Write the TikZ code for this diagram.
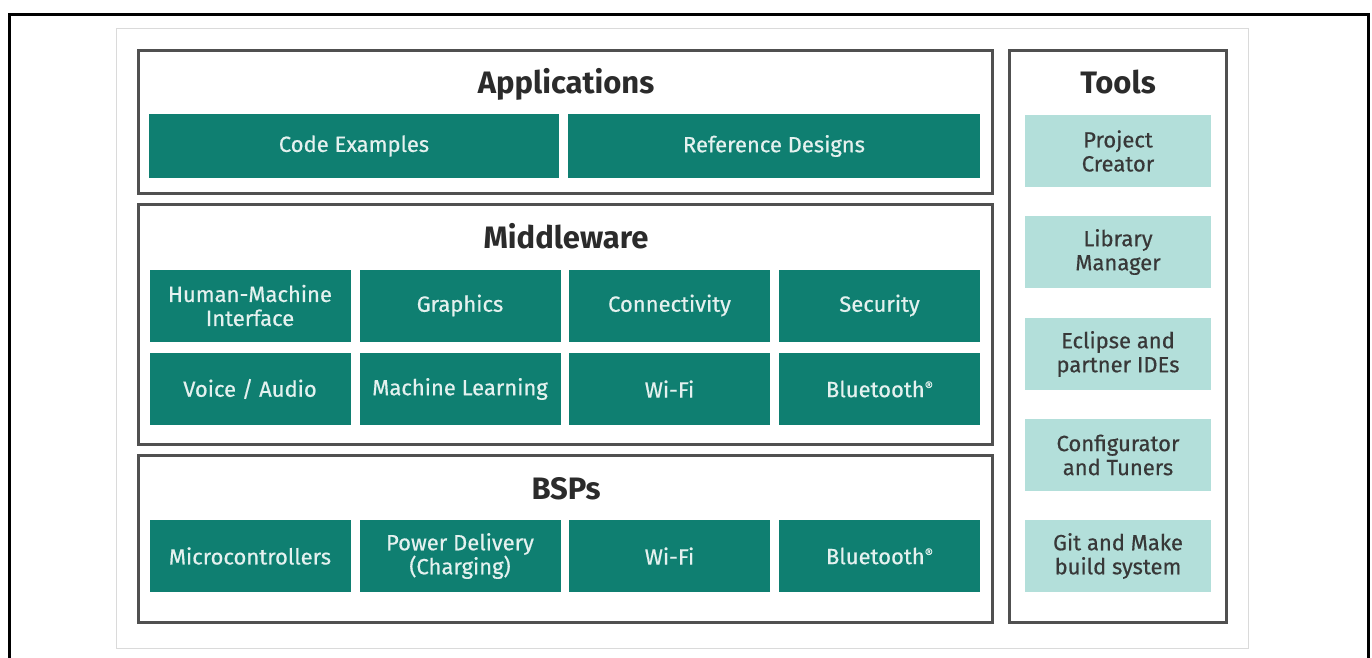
\documentclass[tikz,border=0pt]{standalone}
\usepackage{fontspec}
\setmainfont{Fira Sans}
\newfontfamily\boxfont{Fira Sans}[FakeBold=0.5]
\definecolor{teal1}{HTML}{0F7F71}
\definecolor{lteal}{HTML}{B3DFDA}
\definecolor{btext}{HTML}{E4F1EF}
\definecolor{ttext}{HTML}{2B2B2B}
\definecolor{tooltext}{HTML}{383838}
\definecolor{panelc}{HTML}{505050}
\definecolor{grayc}{HTML}{DADADA}
\begin{document}
\begin{tikzpicture}[x=1pt,y=-1pt,
  panel/.style={draw=panelc,line width=3pt},
  dbox/.style={fill=teal1,text=btext,inner sep=0pt,align=center,
    font=\boxfont\fontsize{22}{24}\selectfont,minimum height=72pt,minimum width=201pt},
  tbox/.style={fill=lteal,text=tooltext,inner sep=0pt,align=center,
    font=\boxfont\fontsize{22}{24}\selectfont,minimum height=72pt,minimum width=186pt},
  title/.style={text=ttext,font=\fontsize{31}{33}\selectfont\bfseries,inner sep=0pt,anchor=base}]
\useasboundingbox (0,0) rectangle (1372,657);
\fill[white] (0,0) rectangle (1372,657);
% outer frame
\draw[black,line width=3pt] (9,660) -- (9,14) -- (1368,14) -- (1368,660);
% light gray frame
\draw[grayc,line width=1pt] (116,28) rectangle (1248,648);
% panels
\draw[panel] (138,50) rectangle (992,193);
\draw[panel] (138,204) rectangle (992,444);
\draw[panel] (138,455) rectangle (992,622);
\draw[panel] (1009,50) rectangle (1226,622);
% titles
\node[title] (tapp) at (566,93) {Applications};
\node[title] (tmid) at (566,248) {Middleware};
\node[title] (tbsp) at (566,499) {BSPs};
\node[title] (ttools) at (1118,93) {Tools};
% applications
\node[dbox,minimum width=410pt,minimum height=64pt] (code) at (354,146) {Code Examples};
\node[dbox,minimum width=412pt,minimum height=64pt] (ref) at (774,146) {Reference Designs};
% middleware row 1
\node[dbox] (hmi) at (250,305.5) {Human-Machine\\Interface};
\node[dbox] (gfx) at (460,305.5) {Graphics};
\node[dbox] (conn) at (669.5,305.5) {Connectivity};
\node[dbox] (sec) at (879.5,305.5) {Security};
% middleware row 2
\node[dbox] (voice) at (250,389) {Voice / Audio};
\node[dbox] (ml) at (460,389) {Machine Learning};
\node[dbox] (wifi1) at (669.5,389) {Wi-Fi};
\node[dbox] (bt1) at (879.5,389) {Bluetooth{\fontsize{13}{13}\selectfont\raisebox{6pt}{®}}};
% BSPs
\node[dbox] (mcu) at (250,556) {Microcontrollers};
\node[dbox] (pd) at (460,556) {Power Delivery\\(Charging)};
\node[dbox] (wifi2) at (669.5,556) {Wi-Fi};
\node[dbox] (bt2) at (879.5,556) {Bluetooth{\fontsize{13}{13}\selectfont\raisebox{6pt}{®}}};
% tools
\node[tbox] (pc) at (1118,151) {Project\\Creator};
\node[tbox] (lm) at (1118,252) {Library\\Manager};
\node[tbox] (ide) at (1118,354) {Eclipse and\\partner IDEs};
\node[tbox] (cfg) at (1118,455) {Configurator\\and Tuners};
\node[tbox] (git) at (1118,556) {Git and Make\\build system};
\end{tikzpicture}
\end{document}
